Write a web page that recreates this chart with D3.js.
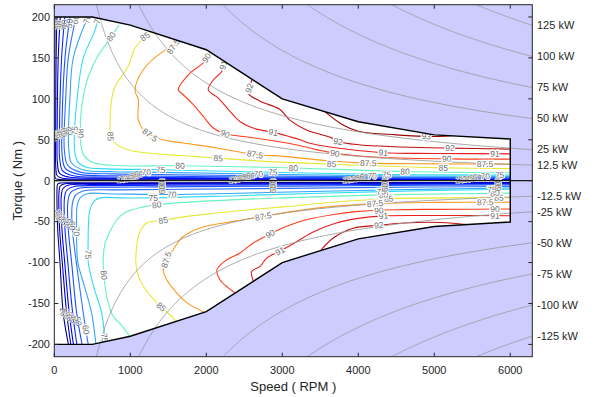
<!DOCTYPE html>
<html><head><meta charset="utf-8">
<script src="https://cdn.jsdelivr.net/npm/d3@7"></script>
<style>body{margin:0;background:#fff} svg{display:block} text{font-family:"Liberation Sans",Arial,Helvetica,sans-serif}</style>
</head><body><svg id="c" width="600" height="397"></svg>
<script>
// ---------------- data ----------------
const levels = [10,20,30,40,50,60,70,75,80,85,87.5,90,91,92,93];
const levelColors = ["#00008c","#0000bb","#0000e6","#0a2cff","#1a50ff","#2f72ff","#2ea6ff","#2fdcf2","#66f2c2","#e6e836","#ff9a1e","#ff3c1c","#e61f1f","#c40f0f","#9c0000"];
const envSpeed = [0,500,1000,2000,3000,4000,5000,6000];
const envTorqueMotor = [200,200,190,160,100,72,56,51];
const envTorqueGen = [-200,-200,-190,-160,-100,-71,-56,-50.5];
const powerLevels = [12.5,25,50,75,100,125];
const xTicks = [0,1000,2000,3000,4000,5000,6000];
const yTicks = [-200,-150,-100,-50,0,50,100,150,200];
const speedMax = 6290;

// motoring efficiency contours (rpm, Nm)
const motor10 = [[10,202],[7,150],[5,60],[6,12],[14,3],[50,1.6],[300,1.2],[1400,1.0],[4300,0.85],[6000,0.8]];
const motor20 = [[35,202],[24,150],[18,60],[20,16],[38,6],[110,3],[500,2.2],[1400,2.0],[4300,1.5],[6000,1.35]];
const motor30 = [[80,202],[52,150],[38,60],[41,22],[70,9],[190,4.5],[600,3.2],[1400,2.9],[4300,2.0],[6000,1.85]];
const motor40 = [[140,202],[96,150],[68,60],[71,27],[110,12],[250,6],[700,4.5],[1400,4.0],[4300,2.7],[6000,2.4]];
const motor50 = [[210,202],[141,150],[100,60],[103,32],[145,15],[310,8],[800,6],[1400,5.4],[4300,3.5],[6000,3.1]];
const motor60 = [[290,202],[184,150],[150,100],[130,58],[133,37],[175,19],[340,10.5],[800,8.3],[1400,7.4],[4300,4.4],[6000,3.9]];
const motor70 = [[450,202],[250,150],[205,100],[186,58],[190,40],[225,22],[390,13],[800,11],[1400,10.2],[4300,5.9],[6000,5.3]];
const motor75 = [[580,200],[537,184],[382,150],[300,100],[265,58],[268,36],[310,23],[420,16.5],[700,14.5],[1400,13.4],[4300,7.6],[6000,6.8]];
const motor80 = [[855,190],[689,168],[558,150],[447,127],[382,103],[347,78],[343,58],[352,42],[395,30],[513,22],[820,18.5],[1650,18.3],[3150,15.5],[4600,11.2],[6000,9.8]];
const motor85 = [[1300,183],[1193,176],[1062,162],[974,140],[799,115],[755,99],[733,70],[740,54],[799,46],[952,38],[1259,33.5],[1829,29.7],[2158,27.5],[2795,23.6],[3650,20.3],[4500,17.3],[5120,15.7],[6000,14.7]];
const motor875 = [[1630,173],[1566,164],[1434,158],[1171,135.6],[1062,111],[1105,99],[1105,74.5],[1171,62.3],[1259,56],[1434,50],[1697,46],[2137,40],[2642,32],[3013,29.7],[3600,24.3],[4130,21.5],[5000,20.6],[6000,20.3]];
const motor90 = [[2060,158],[1961,144],[1786,131.5],[1632,111],[1697,105],[1829,93],[1961,78.5],[2092,64.4],[2246,57.4],[2487,54],[2795,50],[3145,44.5],[3450,38],[3693,33.5],[4200,29],[5160,26.7],[6000,26.4]];
const motor91 = [[2240,147],[2203,133.5],[2092,123],[2026,111],[2158,101],[2312,84.6],[2443,72.4],[2618,64.3],[2882,59],[3013,56],[3234,50],[3350,46],[3670,40.5],[4330,34.2],[5000,33.3],[6000,32.8]];
const motor92 = [[2610,125],[2560,112],[2560,106],[2710,97],[2970,87],[3100,74],[3320,62],[3630,53],[3730,48],[4000,44],[4500,41.5],[5200,39.8],[6000,38.6]];
const motor93 = [[3540,86],[3800,68],[4000,60.5],[4500,56],[5000,54],[5320,55.5]];

// generating efficiency contours (rpm, Nm)
const gen10 = [[190,-202],[118,-162],[75,-100],[45,-60],[36,-30],[36,-10],[44,-4.2],[80,-2.9],[300,-2.6],[1400,-2.5],[4300,-2.3],[6000,-2.2]];
const gen20 = [[220,-202],[163,-162],[105,-100],[70,-60],[60,-32],[62,-14],[78,-6.5],[140,-3.8],[400,-3.4],[1400,-3.3],[4300,-3.0],[6000,-2.8]];
const gen30 = [[255,-202],[197,-162],[137,-100],[101,-60],[90,-34],[93,-17],[115,-9.5],[190,-5.3],[500,-4.5],[1400,-4.3],[4300,-3.7],[6000,-3.3]];
const gen40 = [[300,-202],[242,-162],[178,-100],[141,-60],[130,-37],[134,-21],[160,-12],[250,-7.3],[600,-6],[1400,-5.6],[4300,-4.6],[6000,-4.1]];
const gen50 = [[370,-202],[295,-162],[228,-100],[184,-60],[174,-40],[180,-25],[210,-15],[310,-9.5],[700,-8],[1400,-7.6],[4300,-5.8],[6000,-5.1]];
const gen60 = [[450,-202],[382,-162],[290,-100],[238,-60],[230,-43],[238,-28],[278,-18],[380,-12.5],[800,-11.2],[1400,-10.8],[4300,-8.2],[6000,-7.0]];
const gen70 = [[550,-202],[492,-162],[400,-130],[310,-100],[295,-78],[292,-48],[300,-31],[340,-21],[430,-16],[800,-16.2],[1545,-16.8],[2800,-14.5],[4300,-11.3],[6000,-9]];
const gen75 = [[670,-199],[624,-162],[520,-130],[447,-100],[445,-78],[450,-52],[470,-35],[525,-25],[601,-21],[900,-21],[1303,-21],[2500,-18],[4300,-13.3],[6000,-10.5]];
const gen80 = [[1005,-192],[870,-175],[776,-166],[689,-141],[650,-112],[645,-93],[670,-76],[733,-62],[820,-48],[950,-38],[1171,-32],[1347,-29.3],[1917,-25.3],[3000,-21],[4300,-17.3],[6000,-15.2]];
const gen85 = [[1610,-174],[1566,-167.7],[1347,-149],[1171,-129],[1084,-108.7],[1084,-80],[1129,-62],[1216,-51.7],[1434,-48.5],[1742,-43.6],[2137,-39.5],[2575,-35.4],[3013,-32],[3700,-26],[4400,-22],[6000,-20.7]];
const gen875 = [[2000,-162],[1742,-149],[1610,-137],[1479,-121],[1434,-108.7],[1480,-95],[1566,-84],[1676,-70],[1917,-57.8],[2355,-49.7],[2750,-43.6],[3145,-37.5],[3600,-32],[4220,-28],[5000,-26.5],[6000,-26.2]];
const gen90 = [[2390,-138],[2290,-131],[2180,-121],[2140,-109],[2250,-98],[2443,-88.3],[2618,-76],[2841,-65],[3050,-56],[3300,-48],[3700,-41],[4000,-37.5],[4500,-35.5],[5000,-35],[6000,-34.6]];
const gen91 = [[2625,-124],[2597,-111],[2707,-104.7],[2795,-94.5],[2970,-86],[3145,-77],[3400,-63],[3700,-52],[4000,-46],[4330,-43],[5000,-42.5],[6000,-42.8]];
const gen92 = [[3480,-88],[3671,-70],[3934,-58],[4270,-54.5],[4549,-52],[5075,-51],[5470,-54]];

// contour labels [level, rpm, torque]
const motorLabels = [
 [93,4896,53],
 [92,2575,113],[92,3733,47.5],[92,5207,39.5],
 [91,2240,141],[91,2882,59],[91,4329,34],[91,5798,33],
 [90,2005,150],[90,2246,57.4],[90,3693,33.5],[90,5163,26.5],
 [87.5,1566,164],[87.5,1259,56],[87.5,2642,32],[87.5,4132,21.5],[87.5,5667,20.3],
 [85,1193,176],[85,733,54],[85,2158,27.5],[85,3650,20.3],[85,5118,15.7],
 [80,776,174],[80,345,58],[80,1655,18.3],[80,3145,15.5],[80,4615,11.2],
 [75,590,197],[75,262,61],[70,447,197],[60,280,197]
];
const motorTightLabels = [
 [10,9,190],[20,32,190],[30,74,190],[40,132,191],[50,200,192],
 [10,5,54],[20,18,55],[30,38,56],[40,68,57],[50,100,58],[60,130,59],[70,186,60]
];
const genLabels = [
 [92,4270,-54.5],
 [91,2970,-86],[91,4330,-43],[91,5800,-42.8],
 [90,2841,-65],[90,4270,-36],[90,5800,-34.6],
 [87.5,1524,-98],[87.5,2750,-43.6],[87.5,4220,-28],[87.5,5670,-26.3],
 [85,1434,-48.5],[85,1400,-155],[85,4400,-22],[85,5850,-20.7],
 [80,1347,-29.3],[80,680,-115],[80,4330,-17.3],[80,5800,-15.2],
 [75,1303,-21],[75,447,-90],[75,4300,-13.3],[75,5760,-10.6],[75,650,-192],
 [70,1545,-16.8],[70,293,-62],[60,420,-182]
];
const genTightLabels = [
 [10,36,-40],[20,60,-43],[30,92,-46],[40,131,-49],[50,175,-52],[60,232,-55],
 [10,120,-160],[20,165,-163],[30,200,-166],[40,245,-169],[50,300,-172]
];
const zeroLabelLevels = [10,20,30,40,50,60,70,75];
const zeroLabelOffsets = [0,45,90,135,180,230,330,520];
const motorClusterRpm = [880,2355,3850,5340];
const genClusterLevels = [10,20,30,40,50,60];
const genClusterRpm = [1416,2878,4352,5840];

// ---------------- drawing ----------------
const svg = d3.select("#c");
const x = d3.scaleLinear().domain([0,speedMax]).range([54.3,532.3]);
const y = d3.scaleLinear().domain([-215,215]).range([356.7,4.7]);
const color = d3.scaleOrdinal(levels, levelColors);
const motorSet = [motor10,motor20,motor30,motor40,motor50,motor60,motor70,motor75,motor80,motor85,motor875,motor90,motor91,motor92,motor93];
const genSet = [gen10,gen20,gen30,gen40,gen50,gen60,gen70,gen75,gen80,gen85,gen875,gen90,gen91,gen92];

const defs = svg.append("defs");
const polyLine = d3.line().x(d=>x(d[0])).y(d=>y(d[1]));
const motorPoly = [[0,0],...envSpeed.map((s,i)=>[s,envTorqueMotor[i]]),[6000,0]];
const genPoly = [[0,0],...envSpeed.map((s,i)=>[s,envTorqueGen[i]]),[6000,0]];
const cpE = defs.append("clipPath").attr("id","env");
cpE.append("path").attr("d", polyLine(motorPoly)+"Z");
cpE.append("path").attr("d", polyLine(genPoly)+"Z");
defs.append("clipPath").attr("id","plot").append("rect")
  .attr("x",x(0)).attr("y",y(215)).attr("width",x(speedMax)-x(0)).attr("height",y(-215)-y(215));

// background
svg.append("rect").attr("x",x(0)).attr("y",y(215)).attr("width",x(speedMax)-x(0)).attr("height",y(-215)-y(215)).attr("fill","#ccccff");
svg.append("path").attr("d",polyLine(motorPoly)+"Z").attr("fill","#fff");
svg.append("path").attr("d",polyLine(genPoly)+"Z").attr("fill","#fff");

// contours
const cLine = d3.line().x(d=>x(d[0])).y(d=>y(d[1])).curve(d3.curveCatmullRom.alpha(0.5));
const gC = svg.append("g").attr("clip-path","url(#env)");
motorSet.forEach((pts,i)=>gC.append("path").attr("d",cLine(pts)).attr("fill","none").attr("stroke",color(levels[i])).attr("stroke-width",1.1));
genSet.forEach((pts,i)=>gC.append("path").attr("d",cLine(pts)).attr("fill","none").attr("stroke",color(levels[i])).attr("stroke-width",1.1));

// constant power curves
const gP = svg.append("g").attr("clip-path","url(#plot)");
const allPowers = [...powerLevels, ...powerLevels.map(p=>-p)];
allPowers.forEach(p=>{
  const rpmMin = Math.abs(p)*1000*60/(2*Math.PI*215);
  const pts = d3.range(0,301).map(k=>{const r = rpmMin*Math.pow(speedMax*1.01/rpmMin,k/300); return [r, p*1000/(r*2*Math.PI/60)];});
  gP.append("path").attr("d",polyLine(pts)).attr("fill","none").attr("stroke","#9c9c9c").attr("stroke-width",0.9);
});

// labels
const gL = svg.append("g").attr("clip-path","url(#env)");
function fmt(l){return l===87.5?"87.5":String(l);}
function place(level, pts, hr, ht, forceAngle, halo){
  const sp = pts.map(p=>[x(p[0]),y(p[1])]);
  const hx = x(hr), hy = y(ht);
  let best=null, bd=1e9;
  for(let i=0;i<sp.length-1;i++){
    const [ax,ay]=sp[i],[bx,by]=sp[i+1];
    const dx=bx-ax, dy=by-ay, L2=dx*dx+dy*dy||1e-9;
    let t=((hx-ax)*dx+(hy-ay)*dy)/L2; t=Math.max(0,Math.min(1,t));
    const px=ax+t*dx, py=ay+t*dy, d=(px-hx)**2+(py-hy)**2;
    if(d<bd){bd=d;best=[px,py,Math.atan2(dy,dx)*180/Math.PI];}
  }
  let a = (forceAngle!==undefined && forceAngle!==null)?forceAngle:best[2];
  if(a>=90)a-=180; if(a<-90)a+=180;
  gL.append("text").attr("transform",`translate(${best[0]},${best[1]}) rotate(${a})`)
    .attr("text-anchor","middle").attr("dy","0.35em").attr("font-size",8.5)
    .attr("fill","#6e6e6e").attr("stroke","#fff").attr("stroke-width",halo).attr("paint-order","stroke")
    .text(fmt(level));
}
motorLabels.forEach(([l,r,t])=>place(l, motorSet[levels.indexOf(l)], r, t, null, 2.6));
genLabels.forEach(([l,r,t])=>place(l, genSet[levels.indexOf(l)], r, t, null, 2.6));
motorTightLabels.forEach(([l,r,t])=>place(l, motorSet[levels.indexOf(l)], r, t, null, 0.8));
genTightLabels.forEach(([l,r,t])=>place(l, genSet[levels.indexOf(l)], r, t, null, 0.8));
motorClusterRpm.forEach(b=>zeroLabelLevels.forEach((l,i)=>place(l, motorSet[levels.indexOf(l)], b+zeroLabelOffsets[i], 5, null, l>=70?2:0.8)));
genClusterRpm.forEach(b=>genClusterLevels.forEach(l=>place(l, genSet[levels.indexOf(l)], b, -5, -90, 0.8)));

// envelope outline
const outline = d3.line().x(d=>x(d[0])).y(d=>y(d[1]));
svg.append("path").attr("d",outline([...envSpeed.map((s,i)=>[s,envTorqueMotor[i]]),[6000,0]])).attr("fill","none").attr("stroke","#000").attr("stroke-width",1.4);
svg.append("path").attr("d",outline([...envSpeed.map((s,i)=>[s,envTorqueGen[i]]),[6000,0]])).attr("fill","none").attr("stroke","#000").attr("stroke-width",1.4);
// zero line
svg.append("line").attr("x1",x(0)).attr("x2",x(speedMax)).attr("y1",y(0)).attr("y2",y(0)).attr("stroke","#1a1a1a").attr("stroke-width",1.2);

// axes frame
const ax = svg.append("g").attr("stroke","#262626").attr("stroke-width",1);
ax.append("rect").attr("x",x(0)).attr("y",y(215)).attr("width",x(speedMax)-x(0)).attr("height",y(-215)-y(215)).attr("fill","none");
xTicks.forEach(v=>{
  ax.append("line").attr("x1",x(v)).attr("x2",x(v)).attr("y1",y(-215)).attr("y2",y(-215)-4);
  ax.append("line").attr("x1",x(v)).attr("x2",x(v)).attr("y1",y(215)).attr("y2",y(215)+4);
});
yTicks.forEach(v=>{
  ax.append("line").attr("x1",x(0)).attr("x2",x(0)+4).attr("y1",y(v)).attr("y2",y(v));
  ax.append("line").attr("x1",x(speedMax)).attr("x2",x(speedMax)-4).attr("y1",y(v)).attr("y2",y(v));
});
const tg = svg.append("g").attr("fill","#262626").attr("font-size",11);
xTicks.forEach(v=>tg.append("text").attr("x",x(v)).attr("y",374).attr("text-anchor","middle").text(v));
yTicks.forEach(v=>tg.append("text").attr("x",50).attr("y",y(v)).attr("dy","0.35em").attr("text-anchor","end").text(v));
const wMax = speedMax*2*Math.PI/60;
[...powerLevels].reverse().concat(powerLevels.map(p=>-p)).forEach(p=>{
  tg.append("text").attr("x",537).attr("y",y(p*1000/wMax)).attr("dy","0.35em").text(`${p} kW`);
});
svg.append("text").attr("x",(x(0)+x(speedMax))/2).attr("y",391).attr("text-anchor","middle").attr("font-size",13).attr("fill","#262626").text("Speed ( RPM )");
svg.append("text").attr("transform",`translate(22,${y(0)}) rotate(-90)`).attr("text-anchor","middle").attr("font-size",13).attr("fill","#262626").text("Torque ( Nm )");
</script></body></html>
